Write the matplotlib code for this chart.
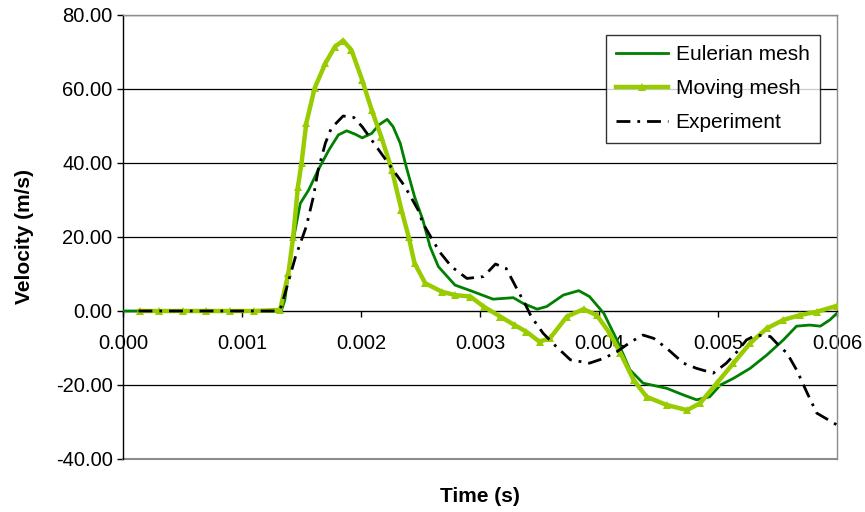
import matplotlib
matplotlib.use("Agg")
import matplotlib.pyplot as plt
from matplotlib.ticker import FormatStrFormatter

plt.rcParams['font.family'] = ['Liberation Sans', 'DejaVu Sans']

# Eulerian mesh (dark green)
t_euler = [0.0, 0.0004, 0.0008, 0.0012, 0.00133, 0.00136, 0.00142, 0.00149, 0.00156,
           0.00164, 0.00173, 0.00181, 0.00188, 0.00195, 0.00201, 0.00209, 0.00215,
           0.00222, 0.00227, 0.00233, 0.00238, 0.00245, 0.00252, 0.00258, 0.00265,
           0.00279, 0.00292, 0.00311, 0.00328, 0.00336, 0.00348, 0.00356, 0.0037,
           0.00383, 0.00392, 0.00404, 0.00415, 0.00426, 0.00437, 0.00457, 0.00471,
           0.00482, 0.00493, 0.00502, 0.00513, 0.00527, 0.00541, 0.00555, 0.00566,
           0.00577, 0.00586, 0.00594, 0.006]
v_euler = [0, 0, 0, 0, 0, 3.0, 17.4, 29.1, 32.7,
           38.1, 43.5, 47.6, 48.7, 47.8, 46.8, 48.0, 50.3,
           51.8, 49.8, 45.3, 39.0, 30.9, 24.6, 17.4, 12.0,
           7.0, 5.5, 3.2, 3.6, 2.1, 0.5, 1.2, 4.3,
           5.5, 3.9, -0.6, -7.8, -15.9, -19.5, -20.9, -22.7,
           -24.0, -23.2, -20.0, -18.2, -15.5, -11.9, -7.8, -4.1,
           -3.8, -4.1, -2.4, -0.6]

# Moving mesh (light green, triangles)
t_moving = [0.00014, 0.0003, 0.0005, 0.0007, 0.0009, 0.0011, 0.00132, 0.00139, 0.00143,
            0.00147, 0.0015, 0.00154, 0.00161, 0.0017, 0.00178, 0.00185, 0.00192,
            0.00201, 0.00209, 0.00217, 0.00226, 0.00234, 0.0024, 0.00245, 0.00254,
            0.00268, 0.00279, 0.00292, 0.00303, 0.00317, 0.00329, 0.00339,
            0.0035, 0.00359, 0.00373, 0.00387, 0.00398, 0.00409, 0.00418, 0.00429,
            0.0044, 0.00457, 0.00474, 0.00485, 0.00499, 0.00513, 0.00527, 0.00541,
            0.00555, 0.00569, 0.00583, 0.006]
v_moving = [0, 0, 0, 0, 0, 0, 0.3, 10.2, 20.1,
            33.6, 39.9, 50.7, 60.2, 66.9, 71.4, 73.1, 70.5,
            62.4, 54.3, 47.1, 38.1, 27.3, 20.1, 12.9, 7.5,
            5.2, 4.3, 3.9, 1.2, -1.5, -3.8, -5.6,
            -8.3, -7.3, -1.5, 0.5, -1.1, -6.0, -11.4, -18.6,
            -23.2, -25.4, -26.8, -24.9, -19.5, -14.1, -8.7, -4.7,
            -2.4, -1.1, -0.2, 1.4]

# Experiment (black dash-dot)
t_exp = [0.00013, 0.0005, 0.0009, 0.0012, 0.0013, 0.00133, 0.00145, 0.00154, 0.0016,
         0.00164, 0.0017, 0.00175, 0.00185, 0.00194, 0.00201, 0.00209, 0.00219,
         0.00227, 0.00237, 0.00248, 0.00252, 0.00266, 0.00276, 0.00289, 0.00303,
         0.00313, 0.00322, 0.00331, 0.00339, 0.00343, 0.00353, 0.00364, 0.00376,
         0.00392, 0.00404, 0.00415, 0.00427, 0.00437, 0.00446, 0.00457, 0.00471,
         0.00482, 0.00496, 0.00507, 0.00516, 0.00524, 0.00532, 0.00544, 0.00552,
         0.00558, 0.00566, 0.00575, 0.00583, 0.006]
v_exp = [0, 0, 0, 0, 0, 1.2, 14.7, 22.8, 30.9,
         38.1, 45.3, 49.4, 52.7, 52.3, 49.8, 46.2, 41.7,
         38.1, 33.6, 27.3, 23.7, 16.0, 12.0, 8.8, 9.3,
         12.7, 11.5, 6.0, 1.2, -1.5, -6.0, -9.6, -13.2,
         -14.1, -12.8, -11.0, -8.3, -6.5, -7.4, -10.1, -14.1,
         -15.5, -16.8, -14.1, -11.0, -7.8, -6.5, -6.9, -9.6,
         -11.4, -15.9, -22.2, -27.6, -30.8]

x_ticks = [0.000, 0.001, 0.002, 0.003, 0.004, 0.005, 0.006]
y_ticks = [-40, -20, 0, 20, 40, 60, 80]

fig = plt.figure(figsize=(8.65, 5.12), dpi=100)
ax = fig.add_axes([123/865, 1 - 459/512, 714/865, 444/512])

ax.set_xlim(0, 0.006)
ax.set_ylim(-40, 80)

# horizontal grid
for yv in [-20, 20, 40, 60, 80]:
    ax.axhline(yv, color='black', lw=0.9, zorder=1)

ax.plot(t_euler, v_euler, color='#008000', lw=2.0, label='Eulerian mesh', zorder=3)
ax.plot(t_moving, v_moving, color='#99CC00', lw=3.2, marker='^', ms=6,
        markeredgewidth=0, label='Moving mesh', zorder=4)
ax.plot(t_exp, v_exp, color='black', lw=2.0, dashes=(5, 2.5, 1, 2.5),
        label='Experiment', zorder=5)

# spines: x axis through zero, gray frame
ax.spines['bottom'].set_position(('data', 0))
ax.spines['bottom'].set_color('black')
ax.spines['bottom'].set_linewidth(1.0)
ax.spines['left'].set_color('black')
ax.spines['left'].set_linewidth(1.0)
for s in ['top', 'right']:
    ax.spines[s].set_color('#8c8c8c')
    ax.spines[s].set_linewidth(1.0)
ax.axhline(-40, color='#8c8c8c', lw=1.5, zorder=2, clip_on=False)

ax.set_xticks(x_ticks)
ax.set_yticks(y_ticks)
ax.xaxis.set_major_formatter(FormatStrFormatter('%.3f'))
ax.yaxis.set_major_formatter(FormatStrFormatter('%.2f'))
ax.tick_params(axis='x', direction='out', length=4.5, width=1, pad=12, labelsize=14.5)
ax.tick_params(axis='y', direction='out', length=4.5, width=1, pad=3, labelsize=14.5)

fig.text(24/865, 1 - 237/512, 'Velocity (m/s)', rotation=90, ha='center', va='center',
         fontsize=15, fontweight='bold')
fig.text(480/865, 1 - 496/512, 'Time (s)', ha='center', va='center',
         fontsize=15, fontweight='bold')

leg = ax.legend(loc='upper right', bbox_to_anchor=(0.976, 0.955), borderaxespad=0,
                fontsize=15, frameon=True, fancybox=False, edgecolor='black',
                handlelength=2.5, handletextpad=0.35, labelspacing=0.72,
                numpoints=1, borderpad=0.5)
leg.get_frame().set_linewidth(1.0)

fig.savefig('out.png', dpi=100)
